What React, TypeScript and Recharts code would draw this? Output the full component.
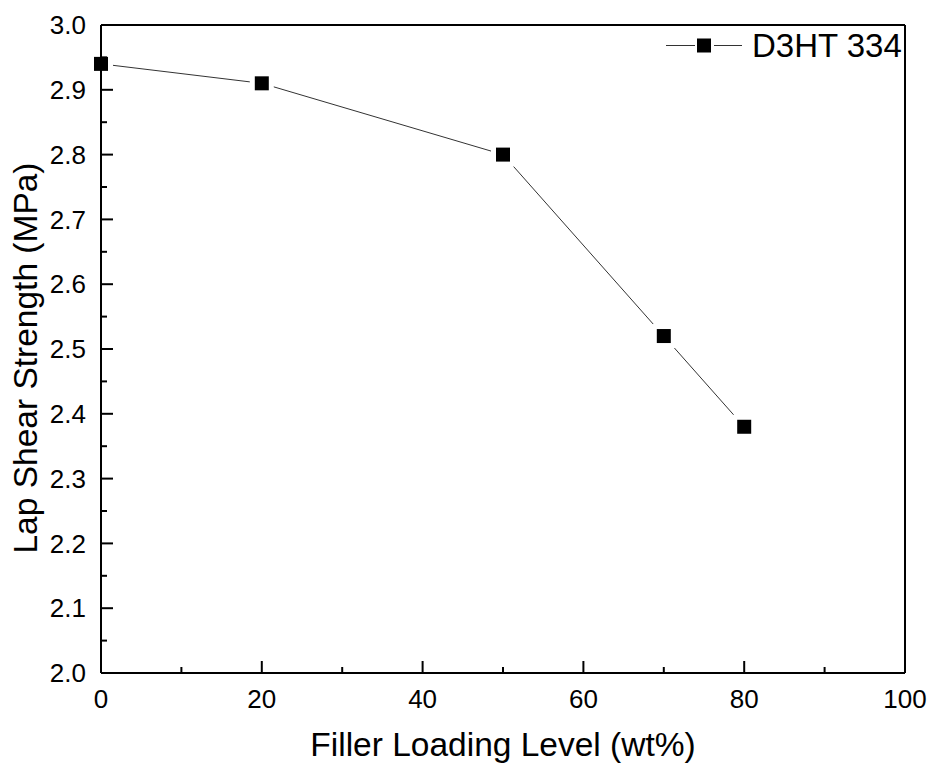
import {
  LineChart,
  Line,
  XAxis,
  YAxis,
  Legend,
  ReferenceLine,
} from "recharts";

// Lap shear strength vs filler loading, single series (D3HT 334).
const LOADING = [0, 20, 50, 70, 80];
const STRENGTH = [2.94, 2.91, 2.8, 2.52, 2.38];
const SERIES_NAME = "D3HT 334";

// Tick positions — majors get labels, minors are just short inward marks.
const X_TICKS = [0, 10, 20, 30, 40, 50, 60, 70, 80, 90, 100];
const Y_TICKS = [
  2.0, 2.05, 2.1, 2.15, 2.2, 2.25, 2.3, 2.35, 2.4, 2.45, 2.5, 2.55, 2.6,
  2.65, 2.7, 2.75, 2.8, 2.85, 2.9, 2.95, 3.0,
];

const FONT = "'Liberation Sans', Arial, sans-serif";
const W = 929;
const H = 765;

const chartData = LOADING.map((x, i) => ({ loading: x, strength: STRENGTH[i] }));

function XTick({ x, y, payload }: any) {
  const v = payload.value as number;
  const major = v % 20 === 0;
  return (
    <g>
      <line x1={x} x2={x} y1={y} y2={y - (major ? 12 : 6)} stroke="#000" strokeWidth={2} />
      {major && (
        <text x={x} y={y + 35} textAnchor="middle" fontSize={26} fontFamily={FONT} fill="#000">
          {v}
        </text>
      )}
    </g>
  );
}

function YTick({ x, y, payload }: any) {
  const v = payload.value as number;
  const major = Math.round(v * 100) % 10 === 0;
  return (
    <g>
      <line x1={x} x2={x + (major ? 12 : 6)} y1={y} y2={y} stroke="#000" strokeWidth={2} />
      {major && (
        <text x={x - 15} y={y} dy="0.35em" textAnchor="end" fontSize={26} fontFamily={FONT} fill="#000">
          {v.toFixed(1)}
        </text>
      )}
    </g>
  );
}

// Filled square with a white halo so the connecting line stops short of it.
// The first point sits on the y axis, so its halo only covers the right side.
function SquareDot({ cx, cy, index }: any) {
  const s = 14;
  const pad = 5;
  return (
    <g key={`dot-${index}`}>
      {index === 0 ? (
        <rect x={cx + 2} y={cy - s / 2 - pad} width={s / 2 + pad - 2} height={s + 2 * pad} fill="#fff" />
      ) : (
        <rect x={cx - s / 2 - pad} y={cy - s / 2 - pad} width={s + 2 * pad} height={s + 2 * pad} fill="#fff" />
      )}
      <rect x={cx - s / 2} y={cy - s / 2} width={s} height={s} fill="#000" />
    </g>
  );
}

function LegendBox({ payload }: any) {
  const label = payload && payload[0] ? payload[0].value : SERIES_NAME;
  return (
    <svg width={260} height={50} style={{ display: "block" }}>
      <line x1={8} x2={37} y1={20.5} y2={20.5} stroke="#333" strokeWidth={1} />
      <line x1={56} x2={84} y1={20.5} y2={20.5} stroke="#333" strokeWidth={1} />
      <rect x={39} y={13.5} width={14} height={14} fill="#000" />
      <text x={94} y={32} fontSize={33} fontFamily={FONT} fill="#000">
        {label}
      </text>
    </svg>
  );
}

export default function App() {
  return (
    <div
      style={{
        position: "absolute",
        left: 0,
        top: 0,
        width: W,
        height: H,
        overflow: "hidden",
        fontFamily: FONT,
      }}
    >
      <LineChart
        width={W}
        height={H}
        data={chartData}
        margin={{ top: 25, right: 24, left: 0, bottom: 0 }}
      >
        <XAxis
          dataKey="loading"
          type="number"
          domain={[0, 100]}
          ticks={X_TICKS}
          interval={0}
          height={92}
          tickSize={0}
          tickMargin={0}
          tickLine={false}
          axisLine={{ stroke: "#000", strokeWidth: 2 }}
          tick={<XTick />}
          label={{
            value: "Filler Loading Level (wt%)",
            position: "insideBottom",
            offset: 9,
            fontSize: 33.5,
            fontFamily: FONT,
            fill: "#000",
          }}
        />
        <YAxis
          type="number"
          domain={[2, 3]}
          ticks={Y_TICKS}
          interval={0}
          width={101}
          tickSize={0}
          tickMargin={0}
          tickLine={false}
          axisLine={{ stroke: "#000", strokeWidth: 2 }}
          tick={<YTick />}
          label={{
            content: () => (
              <text
                x={37}
                y={358}
                transform="rotate(-90 37 358)"
                textAnchor="middle"
                fontSize={33.5}
                fontFamily={FONT}
                fill="#000"
              >
                Lap Shear Strength (MPa)
              </text>
            ),
          }}
        />
        <ReferenceLine y={3} stroke="#000" strokeWidth={2} />
        <ReferenceLine x={100} stroke="#000" strokeWidth={2} />
        <Legend
          layout="horizontal"
          verticalAlign="middle"
          align="center"
          content={<LegendBox />}
          wrapperStyle={{ left: 658, top: 25, width: 260, height: 50 }}
        />
        <Line
          dataKey="strength"
          name={SERIES_NAME}
          stroke="#333"
          strokeWidth={1}
          dot={<SquareDot />}
          activeDot={false}
          isAnimationActive={false}
        />
      </LineChart>
    </div>
  );
}
